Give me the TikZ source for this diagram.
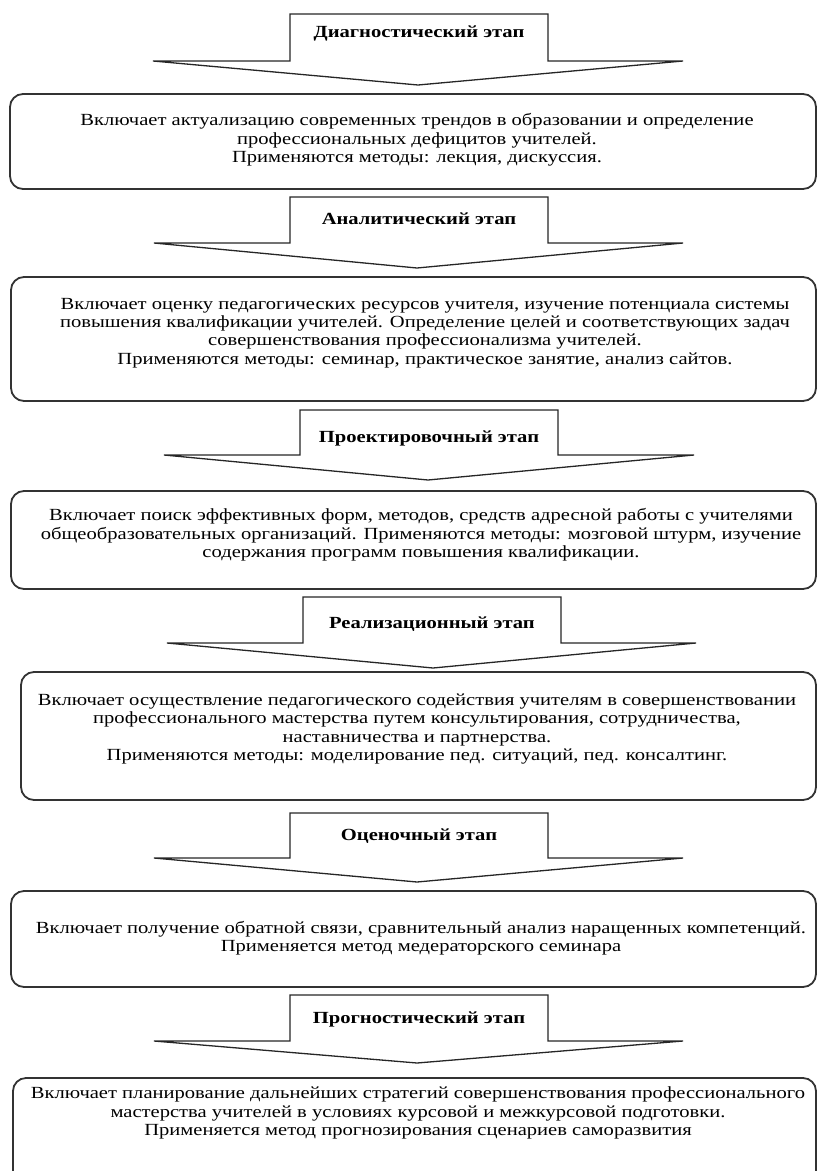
\documentclass[tikz,border=0pt]{standalone}
\usepackage{fontspec}
\setmainfont{Liberation Serif}[FakeStretch=1.21]
\begin{document}
\begin{tikzpicture}[x=1pt,y=-1pt,
  stagearrow/.style={draw=black!85, line width=1.3pt, line join=miter, fill=white},
  stagebox/.style={draw=black!80, line width=1.8pt, rounded corners=13pt},
  headtxt/.style={font=\fontsize{17}{19}\selectfont\bfseries, inner sep=0pt},
  bodytxt/.style={font=\fontsize{17}{18.4}\selectfont, align=center, inner sep=0pt}]
\useasboundingbox (0,0) rectangle (818,1171);
\clip (0,0) rectangle (818,1171);
% 1
\draw[stagearrow] (290,14) -- (548,14) -- (548,61) -- (683,61) -- (418,85) -- (153,61) -- (290,61) -- cycle;
\node[headtxt] (h1) at (419,33) {Диагностический этап};
\draw[stagebox] (10,94) rectangle (816,189);
\node[bodytxt] (t1) at (417,140) {Включает актуализацию современных трендов в образовании и определение\\профессиональных дефицитов учителей.\\Применяются методы: лекция, дискуссия.};
% 2
\draw[stagearrow] (290,197) -- (548,197) -- (548,243) -- (683,243) -- (417,268) -- (154,243) -- (290,243) -- cycle;
\node[headtxt] (h2) at (419,219) {Аналитический этап};
\draw[stagebox] (11,277) rectangle (816,401);
\node[bodytxt] (t2) at (425,333) {Включает оценку педагогических ресурсов учителя, изучение потенциала системы\\повышения квалификации учителей. Определение целей и соответствующих задач\\совершенствования профессионализма учителей.\\Применяются методы: семинар, практическое занятие, анализ сайтов.};
% 3
\draw[stagearrow] (300,410) -- (558,410) -- (558,455) -- (694,455) -- (428,480) -- (164,455) -- (300,455) -- cycle;
\node[headtxt] (h3) at (429,438) {Проектировочный этап};
\draw[stagebox] (11,491) rectangle (816,589);
\node[bodytxt] (t3) at (421,535) {Включает поиск эффективных форм, методов, средств адресной работы с учителями\\общеобразовательных организаций. Применяются методы: мозговой штурм, изучение\\содержания программ повышения квалификации.};
% 4
\draw[stagearrow] (303,597) -- (561,597) -- (561,643) -- (696,643) -- (433,668) -- (167,643) -- (303,643) -- cycle;
\node[headtxt] (h4) at (432,624) {Реализационный этап};
\draw[stagebox] (21,672) rectangle (816,800);
\node[bodytxt] (t4) at (417,729) {Включает осуществление педагогического содействия учителям в совершенствовании\\профессионального мастерства путем консультирования, сотрудничества,\\наставничества и партнерства.\\Применяются методы: моделирование пед. ситуаций, пед. консалтинг.};
% 5
\draw[stagearrow] (290,813) -- (548,813) -- (548,858) -- (683,858) -- (417,882) -- (154,858) -- (290,858) -- cycle;
\node[headtxt] (h5) at (419,836) {Оценочный этап};
\draw[stagebox] (11,891) rectangle (816,987);
\node[bodytxt] (t5) at (421,938) {Включает получение обратной связи, сравнительный анализ наращенных компетенций.\\Применяется метод медераторского семинара};
% 6
\draw[stagearrow] (290,995) -- (548,995) -- (548,1041) -- (683,1041) -- (417,1063) -- (154,1041) -- (290,1041) -- cycle;
\node[headtxt] (h6) at (419,1019) {Прогностический этап};
\draw[stagebox] (13,1078) rectangle (816,1200);
\node[bodytxt] (t6) at (418,1113) {Включает планирование дальнейших стратегий совершенствования профессионального\\мастерства учителей в условиях курсовой и межкурсовой подготовки.\\Применяется метод прогнозирования сценариев саморазвития};
\end{tikzpicture}
\end{document}
